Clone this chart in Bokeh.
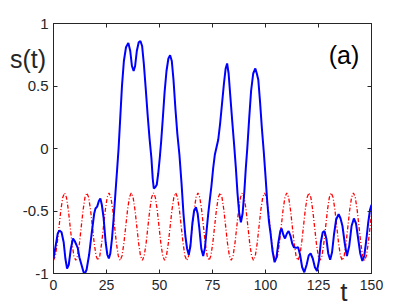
from bokeh.plotting import figure
from bokeh.models import Range1d, LinearAxis, FixedTicker, Label
from bokeh.embed import file_html
from bokeh.resources import INLINE

# --- data ---
x_ticks = [0, 25, 50, 75, 100, 125, 150]
y_ticks = [-1, -0.5, 0, 0.5, 1]
y_tick_labels = ["-1", "-0.5", "0", "0.5", "1"]

blue_t = [0, 1, 2, 2.8, 3.8, 4.8, 5.6, 6.4, 7.2, 8.2, 9.2, 10, 10.8, 11.5, 12.2, 13.2, 14.2, 14.8,
          15.6, 16.8, 18, 19.2, 19.8, 20.6, 21.4, 22.1, 22.8, 23.6, 24.6, 25.4, 26.1, 26.8, 27.6,
          28.4, 29.2, 30, 30.7, 31.5, 32.3, 33.2, 34.2, 35.3, 36.2, 37, 37.8, 38.5, 39.3, 40.2, 41,
          41.8, 42.6, 43.5, 44.4, 45.3, 46.2, 46.8, 47.3, 48, 48.7, 49.4, 50.1, 50.8, 51.6, 52.4,
          53.3, 54.2, 55, 55.8, 56.6, 57.5, 58.4, 59.4, 60.4, 61.3, 62.2, 63, 63.8, 64.6, 65.5, 66.3,
          67.2, 68, 68.8, 69.7, 70.6, 71.4, 72.2, 73, 73.8, 74.5, 75.3, 76.1, 76.9, 77.7, 78.6, 79.5,
          80.4, 81.2, 81.9, 82.6, 83.4, 84.3, 85.2, 86, 86.8, 87.6, 88.4, 89.2, 90, 90.7, 91.4, 92.3,
          93.2, 94.2, 95.2, 95.9, 96.6, 97.4, 98.3, 99.2, 100, 100.8, 101.6, 102.4, 103.3, 104.3,
          105.2, 106.1, 107, 107.6, 108.4, 109.2, 110.1, 110.9, 111.8, 112.6, 113.4, 114.4, 115.4,
          116.3, 117.3, 118.3, 119.4, 120.4, 121.3, 122.3, 123.3, 124.3, 125.2, 126.1, 127, 127.8,
          128.7, 129.6, 130.5, 131.4, 132.3, 133.3, 134.5, 135.4, 136.3, 137.4, 138.4, 139.5, 140.6,
          141.7, 142.7, 143.7, 144.7, 145.7, 146.6, 147.5, 148.4, 149.3, 150]
blue_s = [-0.88, -0.78, -0.68, -0.655, -0.67, -0.75, -0.88, -0.96, -0.93, -0.80, -0.72, -0.74, -0.77,
          -0.80, -0.87, -0.93, -0.99, -1.0, -0.97, -0.85, -0.68, -0.52, -0.48, -0.465, -0.42, -0.40,
          -0.45, -0.55, -0.75, -0.85, -0.88, -0.84, -0.72, -0.55, -0.36, -0.17, 0.0, 0.25, 0.5, 0.70,
          0.81, 0.845, 0.78, 0.66, 0.62, 0.66, 0.78, 0.85, 0.86, 0.82, 0.68, 0.48, 0.27, 0.08, -0.08,
          -0.24, -0.32, -0.31, -0.29, -0.2, -0.08, 0.06, 0.25, 0.45, 0.62, 0.72, 0.746, 0.70, 0.55,
          0.32, 0.12, -0.05, -0.28, -0.52, -0.70, -0.80, -0.85, -0.78, -0.6, -0.5, -0.47, -0.52, -0.64,
          -0.80, -0.86, -0.80, -0.66, -0.52, -0.40, -0.30, -0.16, -0.05, 0.01, 0.07, 0.2, 0.36, 0.52,
          0.64, 0.68, 0.60, 0.42, 0.22, 0.03, -0.15, -0.36, -0.52, -0.59, -0.52, -0.35, -0.16, 0.0,
          0.24, 0.46, 0.60, 0.64, 0.6, 0.55, 0.38, 0.16, -0.03, -0.22, -0.42, -0.58, -0.68, -0.82,
          -0.91, -0.87, -0.75, -0.66, -0.64, -0.69, -0.72, -0.68, -0.66, -0.70, -0.76, -0.79, -0.795,
          -0.79, -0.85, -0.95, -0.99, -0.93, -0.855, -0.84, -0.88, -0.95, -0.98, -0.9, -0.75, -0.67,
          -0.66, -0.72, -0.84, -0.89, -0.83, -0.69, -0.57, -0.525, -0.56, -0.62, -0.76, -0.86, -0.78,
          -0.62, -0.56, -0.6, -0.72, -0.84, -0.9, -0.86, -0.74, -0.6, -0.49, -0.45]

red_step = 0.8733
red_s = [
    -0.895, -0.859, -0.760, -0.625, -0.490, -0.391, -0.355, -0.391, -0.490, -0.625, -0.760, -0.859,
    -0.895, -0.859, -0.760, -0.625, -0.490, -0.391, -0.355, -0.391, -0.490, -0.625, -0.760, -0.859,
    -0.895, -0.859, -0.760, -0.625, -0.490, -0.391, -0.355, -0.391, -0.490, -0.625, -0.760, -0.859,
    -0.895, -0.859, -0.760, -0.625, -0.490, -0.391, -0.355, -0.391, -0.490, -0.625, -0.760, -0.859,
    -0.895, -0.859, -0.760, -0.625, -0.490, -0.391, -0.355, -0.391, -0.490, -0.625, -0.760, -0.859,
    -0.895, -0.859, -0.760, -0.625, -0.490, -0.391, -0.355, -0.391, -0.490, -0.625, -0.760, -0.859,
    -0.895, -0.859, -0.760, -0.625, -0.490, -0.391, -0.355, -0.391, -0.490, -0.625, -0.760, -0.859,
    -0.895, -0.859, -0.760, -0.625, -0.490, -0.391, -0.355, -0.391, -0.490, -0.625, -0.760, -0.859,
    -0.895, -0.859, -0.760, -0.625, -0.490, -0.391, -0.355, -0.391, -0.490, -0.625, -0.760, -0.859,
    -0.895, -0.859, -0.760, -0.625, -0.490, -0.391, -0.355, -0.391, -0.490, -0.625, -0.760, -0.859,
    -0.895, -0.859, -0.760, -0.625, -0.490, -0.391, -0.355, -0.391, -0.490, -0.625, -0.760, -0.859,
    -0.895, -0.859, -0.760, -0.625, -0.490, -0.391, -0.355, -0.391, -0.490, -0.625, -0.760, -0.859,
    -0.895, -0.859, -0.760, -0.625, -0.490, -0.391, -0.355, -0.391, -0.490, -0.625, -0.760, -0.859,
    -0.895, -0.859, -0.760, -0.625, -0.490, -0.391, -0.355, -0.391, -0.490, -0.625, -0.760, -0.859,
    -0.895, -0.859, -0.760, -0.625, -0.490,
]
red_t = [round(i * red_step, 4) for i in range(len(red_s))]

AX = "#262626"
FONT = "Liberation Sans"

p = figure(width=409, height=307, output_backend="svg", toolbar_location=None,
           x_range=Range1d(0, 150), y_range=Range1d(-1, 1),
           min_border_left=53, min_border_right=38, min_border_top=23, min_border_bottom=34,
           x_axis_location=None, y_axis_location=None)
p.grid.visible = False
p.outline_line_color = AX
p.outline_line_width = 1
p.background_fill_color = "white"
p.border_fill_color = "white"

p.line(red_t, red_s, line_color="#ff0000", line_width=1.3, line_dash="4 2 1 2")
p.line(blue_t, blue_s, line_color="#0000ff", line_width=2)


def style(ax, show_labels, ticks):
    ax.axis_line_color = AX
    ax.major_tick_line_color = AX
    ax.major_tick_in = 4
    ax.major_tick_out = 0
    ax.minor_tick_line_color = None
    ax.major_label_text_color = AX
    ax.major_label_text_font = FONT
    ax.major_label_text_font_size = "14px"
    ax.major_label_standoff = 6
    if not show_labels:
        ax.major_label_overrides = {v: "" for v in ticks}
        ax.major_label_text_font_size = "1px"
        ax.major_label_standoff = 0


xb = LinearAxis(ticker=FixedTicker(ticks=x_ticks))
style(xb, True, x_ticks)
p.add_layout(xb, "below")
xt = LinearAxis(ticker=FixedTicker(ticks=x_ticks))
style(xt, False, x_ticks)
p.add_layout(xt, "above")

yl = LinearAxis(ticker=FixedTicker(ticks=y_ticks),
                major_label_overrides={v: s for v, s in zip(y_ticks, y_tick_labels)})
style(yl, True, y_ticks)
yl.major_label_text_font_size = "15px"
yl.major_label_standoff = 5
p.add_layout(yl, "left")
yr = LinearAxis(ticker=FixedTicker(ticks=y_ticks))
style(yr, False, y_ticks)
p.add_layout(yr, "right")

# labels placed in side panels with spare room (so they are not clipped to the frame);
# their positions are given in data units
p.add_layout(Label(x=-12, y=0.72, text="s(t)",
                   text_font=FONT, text_font_size="25px",
                   text_color=AX, text_align="center", text_baseline="middle"), "right")
p.add_layout(Label(x=137, y=-1.15, text="t",
                   text_font=FONT, text_font_size="26px",
                   text_color=AX, text_align="center", text_baseline="middle"), "left")
p.add_layout(Label(x=137, y=0.75, text="(a)", text_font=FONT, text_font_size="25px",
                   text_color="black", text_align="center", text_baseline="middle"))

open("out.html", "w").write(file_html(p, INLINE))
